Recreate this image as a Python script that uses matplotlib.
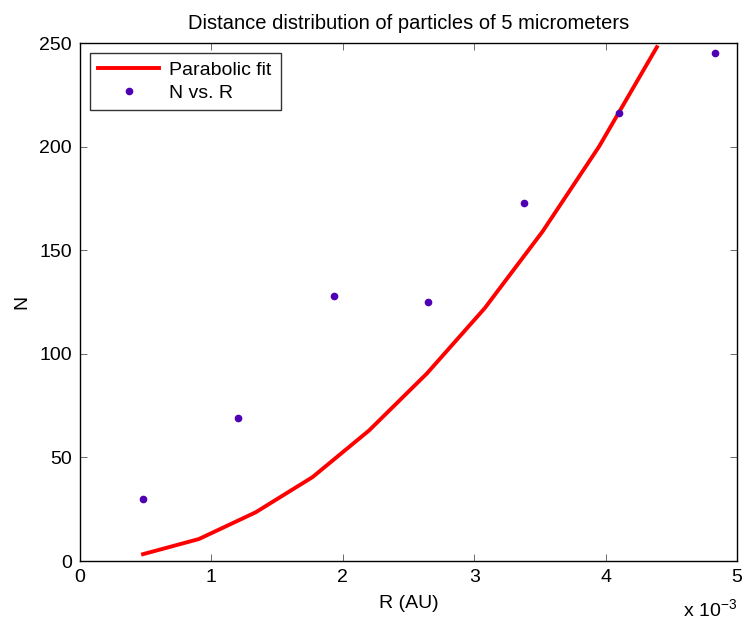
import matplotlib

matplotlib.use("Agg")

import matplotlib.pyplot as plt
import numpy as np

plt.rcParams["font.family"] = ["Liberation Sans", "DejaVu Sans"]
plt.rcParams["mathtext.fontset"] = "custom"
plt.rcParams["mathtext.rm"] = "Liberation Sans"
plt.rcParams["mathtext.default"] = "regular"

# measured counts per distance bin (R in units of 1e-3 AU)
r_bins = [0.48, 1.20, 1.93, 2.65, 3.38, 4.10, 4.83]
n_counts = [30, 69, 128, 125, 173, 216, 245]

# parabolic fit evaluated on a coarse grid
r_fit = [0.48, 0.905, 1.337, 1.77, 2.20, 2.64, 3.08, 3.52, 3.95, 4.39]
n_fit = [3.3, 10.6, 23.5, 40.5, 63.0, 90.5, 122.0, 159.0, 200.0, 248.0]

fig = plt.figure(figsize=(7.44, 6.25), dpi=100)
ax = fig.add_axes([0.1075, 0.1024, 0.8831, 0.8288])

ax.plot(r_fit, n_fit, color="#ff0000", lw=2.8, label="Parabolic fit", zorder=2)
ax.plot(r_bins, n_counts, ".", color="#5000b4", ms=9, label="N vs. R", zorder=3)

ax.set_xlim(0, 5)
ax.set_ylim(0, 250)
ax.set_xticks(np.arange(0, 6, 1))
ax.set_yticks(np.arange(0, 300, 50))
ax.tick_params(direction="in", top=True, right=True, labelsize=14, length=5,
               width=0.6, color="#555555", pad=6)
for side in ax.spines.values():
    side.set_linewidth(1.0)

ax.set_xlabel("R (AU)", fontsize=14, labelpad=6)
ax.set_ylabel("N", fontsize=14, labelpad=6)
ax.set_title("Distance distribution of particles of 5 micrometers", fontsize=14.5, pad=10)
ax.text(1.0, -0.072, r"x 10$^{-3}$", transform=ax.transAxes, ha="right", va="top",
        fontsize=14)

leg = ax.legend(loc="upper left", fontsize=14, frameon=True, fancybox=False,
                edgecolor="black", borderaxespad=0.5, handlelength=3.1,
                handletextpad=0.55, borderpad=0.45, labelspacing=0.25)
leg.get_frame().set_linewidth(1.0)

fig.savefig("out.png", dpi=100, facecolor="white")
